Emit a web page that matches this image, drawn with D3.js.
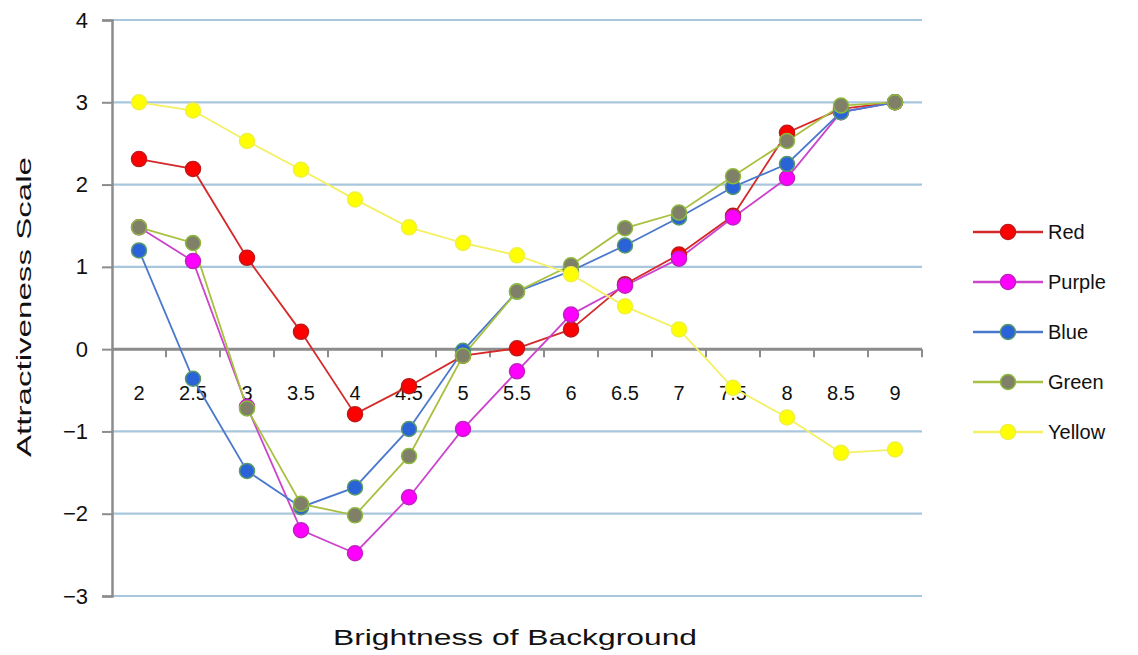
<!DOCTYPE html>
<html><head><meta charset="utf-8">
<script src="https://cdn.jsdelivr.net/npm/d3@7"></script>
<style>body{margin:0;background:#fff;}svg{display:block;font-family:"Liberation Sans",Arial,sans-serif;}</style>
</head><body><svg id="c" width="1138" height="655"></svg>
<script>
const categories = ["2","2.5","3","3.5","4","4.5","5","5.5","6","6.5","7","7.5","8","8.5","9"];
const yTicks = [-3,-2,-1,0,1,2,3,4];
const red    = [2.31,2.19,1.11,0.21,-0.79,-0.45,-0.08,0.01,0.24,0.79,1.15,1.62,2.63,2.92,3.0];
const purple = [1.48,1.07,-0.70,-2.20,-2.48,-1.80,-0.97,-0.27,0.42,0.77,1.10,1.60,2.08,2.88,3.0];
const blue   = [1.20,-0.36,-1.48,-1.92,-1.68,-0.97,-0.02,0.70,0.95,1.26,1.60,1.97,2.25,2.88,3.0];
const green  = [1.48,1.29,-0.72,-1.88,-2.02,-1.30,-0.08,0.70,1.02,1.47,1.66,2.10,2.53,2.96,3.0];
const yellow = [3.0,2.90,2.53,2.18,1.82,1.48,1.29,1.14,0.91,0.52,0.24,-0.47,-0.83,-1.26,-1.22];
const seriesNames = ["Red","Purple","Blue","Green","Yellow"];

const series = [
  {name:"Red", values:red, line:"#d42a2a", fill:"#ff0000", stroke:"#c01818"},
  {name:"Purple", values:purple, line:"#cc44cc", fill:"#ff00ff", stroke:"#c020c0"},
  {name:"Blue", values:blue, line:"#4a78cc", fill:"#2a62d8", stroke:"#5a9a6a"},
  {name:"Green", values:green, line:"#a8c040", fill:"#808068", stroke:"#8cb83c"},
  {name:"Yellow", values:yellow, line:"#f4f060", fill:"#ffff00", stroke:"#f0f040"}
];

const svg = d3.select("#c");
const x = d3.scaleBand().domain(categories).range([112,922]).padding(0);
const y = d3.scaleLinear().domain([-3,4]).range([596,20]);
const cx = c => x(c) + x.bandwidth()/2;

// gridlines
svg.append("g").selectAll("line").data(yTicks).join("line")
  .attr("x1",112).attr("x2",922).attr("y1",d=>y(d)).attr("y2",d=>y(d))
  .attr("stroke","#a9c7dc").attr("stroke-width",2.2);

// y axis
const yAxis = svg.append("g").attr("transform","translate(112,0)")
  .call(d3.axisLeft(y).tickValues(yTicks).tickSize(10).tickPadding(14).tickFormat(d=>d<0?"\u2212"+Math.abs(d):d));
yAxis.select(".domain").attr("stroke","#8c8c8c").attr("stroke-width",2.5);
yAxis.selectAll(".tick line").attr("stroke","#8c8c8c").attr("stroke-width",2);
yAxis.selectAll("text").attr("font-size",22).attr("fill","#111").style("font-family","'Liberation Sans',Arial,sans-serif");

// x axis at 0
const xAxisG = svg.append("g").attr("transform",`translate(0,${y(0)})`);
xAxisG.append("line").attr("x1",112).attr("x2",922).attr("y1",0).attr("y2",0)
  .attr("stroke","#8c8c8c").attr("stroke-width",3);
xAxisG.selectAll("line.tk").data(categories).join("line").attr("class","tk")
  .attr("x1",d=>x(d)+x.bandwidth()).attr("x2",d=>x(d)+x.bandwidth())
  .attr("y1",0).attr("y2",8).attr("stroke","#8c8c8c").attr("stroke-width",2);
xAxisG.selectAll("text").data(categories).join("text")
  .attr("x",d=>cx(d)).attr("y",51).attr("text-anchor","middle")
  .attr("font-size",20).attr("fill","#111").text(d=>d);

// lines & markers
const line = d3.line().x((d,i)=>cx(categories[i])).y(d=>y(d));
series.forEach(s=>{
  svg.append("path").datum(s.values).attr("d",line)
    .attr("fill","none").attr("stroke",s.line).attr("stroke-width",1.8);
});
series.forEach(s=>{
  svg.append("g").selectAll("circle").data(s.values).join("circle")
    .attr("cx",(d,i)=>cx(categories[i])).attr("cy",d=>y(d)).attr("r",7.5)
    .attr("fill",s.fill).attr("stroke",s.stroke).attr("stroke-width",1.5);
});

// axis titles
svg.append("text").attr("transform","translate(31,307) rotate(-90)")
  .attr("text-anchor","middle").attr("font-size",21).attr("fill","#111")
  .attr("textLength",300).attr("lengthAdjust","spacingAndGlyphs").text("Attractiveness Scale");
svg.append("text").attr("x",515).attr("y",645).attr("text-anchor","middle")
  .attr("font-size",22).attr("fill","#111")
  .attr("textLength",364).attr("lengthAdjust","spacingAndGlyphs").text("Brightness of Background");

// legend
const lg = svg.append("g");
const rows = lg.selectAll("g").data(series).join("g")
  .attr("transform",(d,i)=>`translate(0,${232+i*50})`);
rows.append("line").attr("x1",973).attr("x2",1043).attr("y1",0).attr("y2",0)
  .attr("stroke",d=>d.line).attr("stroke-width",2.5);
rows.append("circle").attr("cx",1008).attr("cy",0).attr("r",7.5)
  .attr("fill",d=>d.fill).attr("stroke",d=>d.stroke).attr("stroke-width",1.5);
rows.append("text").attr("x",1048).attr("y",7).attr("font-size",20).attr("fill","#111")
  .text((d,i)=>seriesNames[i]);
</script></body></html>
